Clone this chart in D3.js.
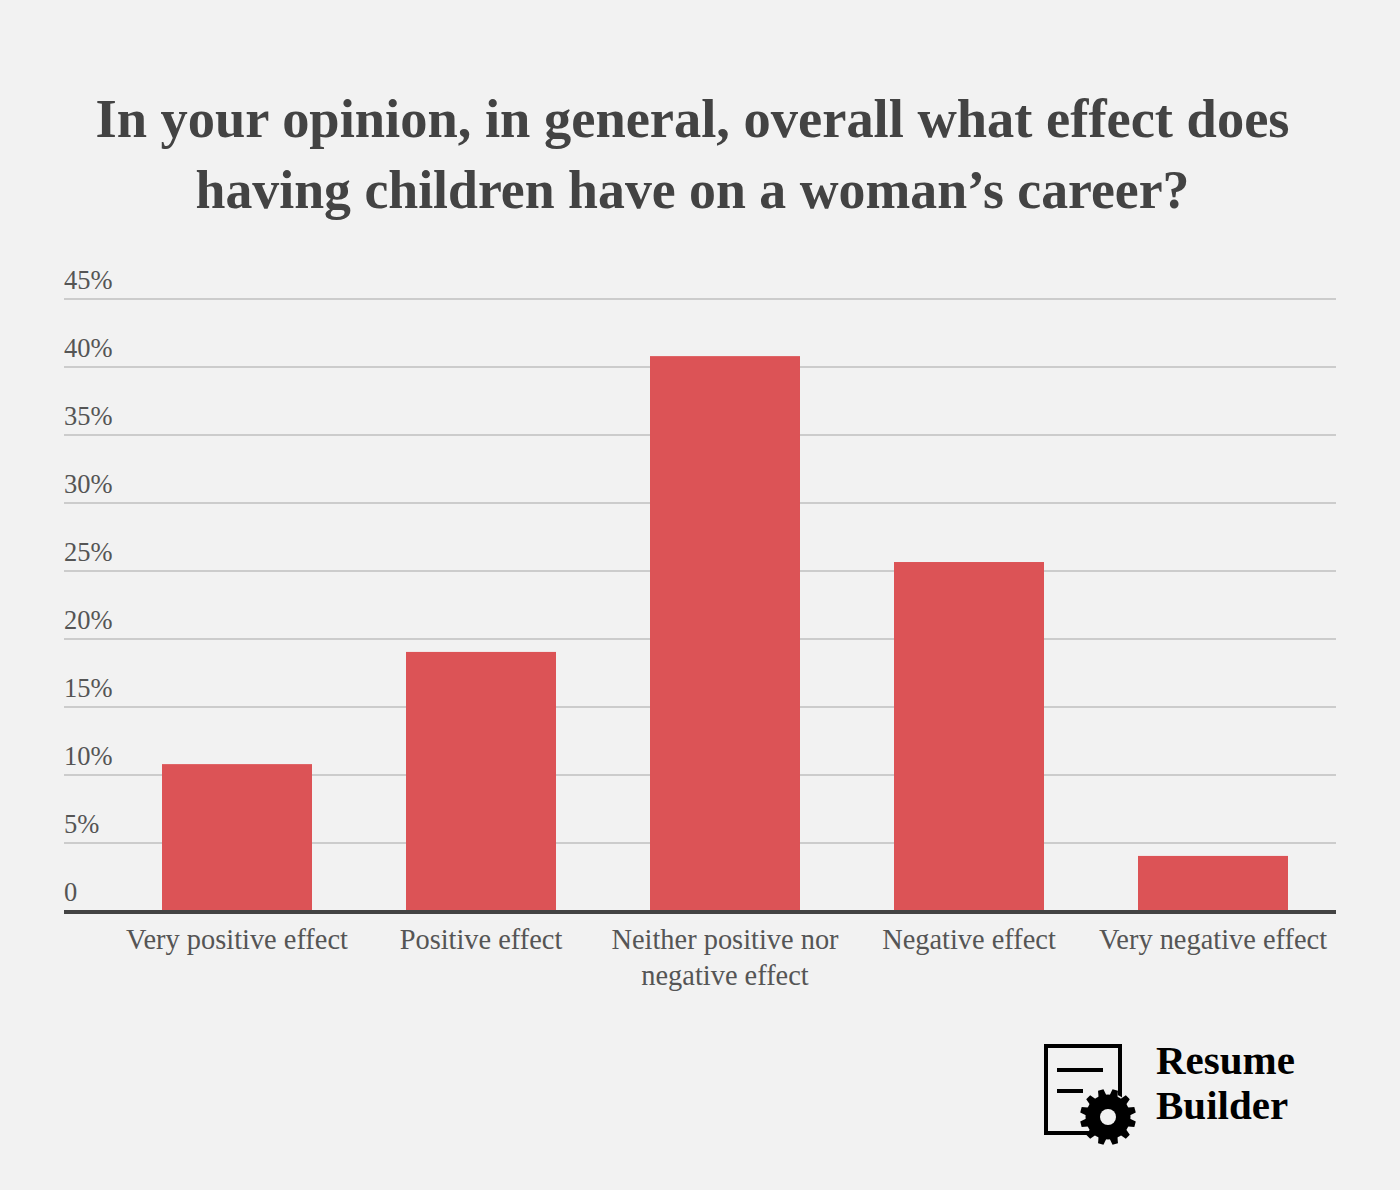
<!DOCTYPE html>
<html>
<head>
<meta charset="utf-8">
<script src="https://cdn.jsdelivr.net/npm/d3@7/dist/d3.min.js"></script>
<style>
  html, body { margin: 0; padding: 0; background: #f2f2f2; }
  svg { display: block; }
  text { font-family: "Liberation Serif", serif; }
</style>
</head>
<body>
<svg id="chart" width="1400" height="1190"></svg>
<script>
const categories = [
  ["Very positive effect"],
  ["Positive effect"],
  ["Neither positive nor", "negative effect"],
  ["Negative effect"],
  ["Very negative effect"]
];
const shares = [10.8, 19.05, 40.8, 25.66, 4.05];
const yTicks = [0, 5, 10, 15, 20, 25, 30, 35, 40, 45];
const titleLines = [
  "In your opinion, in general, overall what effect does",
  "having children have on a woman\u2019s career?"
];
const titleWidths = [1194, 994];
const brandLines = ["Resume", "Builder"];

const svg = d3.select("#chart");
svg.append("rect").attr("width", 1400).attr("height", 1190).attr("fill", "#f2f2f2");

const y = d3.scaleLinear().domain([0, 45]).range([911, 299]);
const x = d3.scaleBand()
  .domain(d3.range(categories.length))
  .range([115, 1335])
  .paddingInner(94 / 244)
  .paddingOuter(47 / 244);

// Title
svg.append("g").selectAll("text").data(titleLines).join("text")
  .attr("x", 692.5)
  .attr("y", (d, i) => 136.5 + i * 71)
  .attr("text-anchor", "middle")
  .attr("font-size", 54)
  .attr("font-weight", 700)
  .attr("fill", "#434343")
  .attr("textLength", (d, i) => titleWidths[i])
  .attr("lengthAdjust", "spacingAndGlyphs")
  .text(d => d);

// Horizontal grid and tick labels
const yAxis = d3.axisLeft(y)
  .offset(0)
  .tickValues(yTicks)
  .tickSize(-1272)
  .tickFormat(d => d === 0 ? "0" : d + "%");
const yG = svg.append("g").attr("transform", "translate(64,0)").call(yAxis);
yG.select(".domain").remove();
yG.selectAll(".tick line").attr("stroke", "#cccccc").attr("stroke-width", 2);
yG.selectAll(".tick").filter(d => d === 0).select("line").remove();
yG.selectAll(".tick text")
  .attr("x", 0)
  .attr("dy", -10.5)
  .attr("text-anchor", "start")
  .attr("font-size", 26.5)
  .attr("font-family", "Liberation Serif, serif")
  .attr("fill", "#555555");

// Bars
svg.append("g").selectAll("rect").data(shares).join("rect")
  .attr("x", (d, i) => x(i))
  .attr("y", d => y(d))
  .attr("width", x.bandwidth())
  .attr("height", d => y(0) - y(d))
  .attr("fill", "#dc5356");

// Baseline
svg.append("line")
  .attr("x1", 64).attr("x2", 1336)
  .attr("y1", y(0) + 1).attr("y2", y(0) + 1)
  .attr("stroke", "#434343").attr("stroke-width", 4);

// Category labels
const catG = svg.append("g").selectAll("g").data(categories).join("g")
  .attr("transform", (d, i) => `translate(${x(i) + x.bandwidth() / 2},0)`);
catG.selectAll("text").data(d => d).join("text")
  .attr("y", (d, i) => 949 + i * 36)
  .attr("text-anchor", "middle")
  .attr("font-size", 28.4)
  .attr("fill", "#555555")
  .text(d => d);

// Brand mark: document outline with a gear
const logo = svg.append("g").attr("transform", "translate(1044,1044)");
logo.append("rect")
  .attr("x", 2).attr("y", 2).attr("width", 74).attr("height", 87)
  .attr("fill", "none").attr("stroke", "#000").attr("stroke-width", 4);
logo.append("rect").attr("x", 13).attr("y", 24).attr("width", 46).attr("height", 4).attr("fill", "#000");
logo.append("rect").attr("x", 13).attr("y", 45).attr("width", 26).attr("height", 4).attr("fill", "#000");

const gearTeeth = 12;
const gear = logo.append("g").attr("transform", "translate(64,73)");
gear.append("circle").attr("r", 24).attr("fill", "#f2f2f2");
gear.selectAll("path.tooth").data(d3.range(gearTeeth)).join("path")
  .attr("class", "tooth")
  .attr("d", "M-4.5,-19L-2.8,-28L2.8,-28L4.5,-19Z")
  .attr("fill", "#000")
  .attr("transform", d => `rotate(${(d + 0.5) * 360 / gearTeeth})`);
gear.append("circle").attr("r", 22.5).attr("fill", "#000");
gear.append("circle").attr("r", 8).attr("fill", "#f2f2f2");

// Brand wordmark
svg.append("g").selectAll("text").data(brandLines).join("text")
  .attr("x", 1156)
  .attr("y", (d, i) => 1074 + i * 45)
  .attr("font-size", 41)
  .attr("font-weight", 700)
  .attr("fill", "#000")
  .text(d => d);
</script>
</body>
</html>
